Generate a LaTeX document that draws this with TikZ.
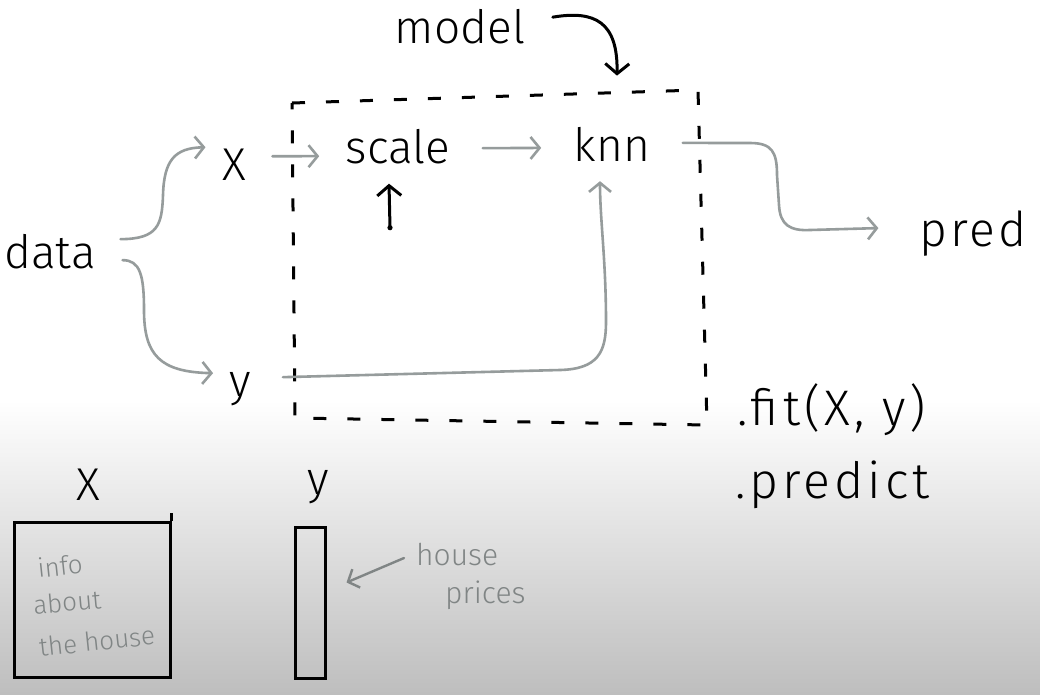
\documentclass[tikz,border=0pt]{standalone}
\usepackage{fontspec}
\setmainfont{Fira Sans}[UprightFont=* Light]
\usetikzlibrary{arrows.meta,calc}
\definecolor{conngray}{RGB}{150,156,156}
\definecolor{notegray}{RGB}{128,133,133}
\definecolor{boardgray}{RGB}{190,190,190}
\begin{document}
\begin{tikzpicture}[x=1pt,y=-1pt,
  lbl/.style={font=\fontsize{46}{50}\selectfont, inner sep=0pt, anchor=base},
  widelbl/.style={font=\fontsize{50}{54}\selectfont\addfontfeature{LetterSpace=8}, inner sep=0pt, anchor=base west},
  note/.style={text=notegray, font=\fontsize{30}{34}\selectfont, inner sep=0pt, anchor=base west},
  boxnote/.style={text=notegray, font=\fontsize{26}{28}\selectfont, inner sep=0pt},
  garrow/.style={draw=conngray, line width=2.6pt, line cap=round,
    -{Straight Barb[length=9pt,width=22pt,line width=2.6pt]}},
  karrow/.style={draw=black, line width=3pt, line cap=round,
    -{Straight Barb[length=10pt,width=24pt,line width=3pt]}},
  modelbox/.style={draw=black, line width=3pt, dash pattern=on 13pt off 21pt},
  databox/.style={draw=black, line width=3pt, inner sep=0pt}]
\useasboundingbox (0,0) rectangle (1040,694);
% board background
\fill[white] (0,0) rectangle (1040,694);
\shade[top color=white, bottom color=boardgray] (0,400) rectangle (1040,694);

% labels
\node[lbl] (data) at (50,268) {data};
\node[lbl] (X) at (234,180) {X};
\node[lbl] (y) at (240,396) {y};
\node[lbl] (scale) at (398,163) {scale};
\node[lbl] (knn) at (612,161) {knn};
\node[lbl] (model) at (460,43) {model};
\node[lbl, font=\fontsize{48}{50}\selectfont\addfontfeature{LetterSpace=6}] (pred) at (973,246) {pred};
\node[widelbl] (fit) at (737,425) {.fit(X, y)};
\node[widelbl] (predict) at (735,498) {.predict};

% the model: dashed frame
\draw[modelbox] (292,103) -- (698,90) -- (707,425) -- (295,418) -- cycle;

% data flow
\draw[garrow] ($(data.east)+(24.5,-12)$) .. controls (158,239) and (162,225) .. (163,195)
  .. controls (164,160) and (175,148) .. ($(X.west)+(-16.5,-17)$);
\draw[garrow] ($(data.east)+(26.5,9)$) .. controls (140,260) and (144,275) .. (144,310)
  .. controls (144,355) and (160,372) .. ($(y.west)+(-16,-15.5)$);
\draw[garrow] ($(X.east)+(26.5,-8)$) -- ($(scale.west)+(-26.5,10)$);
\draw[garrow] ($(scale.east)+(32.5,2)$) -- ($(knn.west)+(-32.5,4)$);
\draw[garrow] ($(y.east)+(32,-11.5)$) -- (560,370)
  .. controls (598,369) and (606,352) .. (606,322)
  .. controls (606,260) and (600,220) .. ($(knn.south)+(-12,20)$);
\draw[garrow] ($(knn.east)+(32.5,-1)$) -- (750,143)
  .. controls (772,143) and (777,152) .. (777,175)
  -- (779,205) .. controls (780,225) and (790,231) .. (810,230)
  -- ($(pred.west)+(-41,-5)$);

% model points at knn
\draw[karrow] ($(model.east)+(27.5,-9)$) .. controls (595,10) and (618,22) .. ($(knn.north)+(5,-51)$);
% pointer to scale
\fill ($(scale.south)+(-8,64)$) circle (2.6pt);
\draw[karrow] ($(scale.south)+(-8,64)$) -- ($(scale.south)+(-9,20)$);

% shapes of X and y
\node[lbl] (Xb) at (88,500) {X};
\node[lbl] (yb) at (318,494) {y};
\node[databox, minimum width=156pt, minimum height=155pt] (Xbox) at (92,600) {};
\draw[line width=3pt] (Xbox.north east) -- ++(0,-8);
\node[databox, minimum width=30pt, minimum height=151pt] (ybox) at (310,602.5) {};
\node[boxnote, rotate=6] (info) at (60,566) {info};
\node[boxnote, rotate=5] (about) at (67,602) {about};
\node[boxnote, rotate=6] (thehouse) at (97,641) {the house};
\node[note] (house) at (416,565) {house};
\node[note] (prices) at (445,603) {prices};
\draw[draw=notegray, line width=2.4pt, line cap=round,
  -{Straight Barb[length=9pt,width=20pt,line width=2.4pt]}]
  ($(house.west)+(-12,4)$) -- ($(ybox.east)+(20,-20)$);
\end{tikzpicture}
\end{document}
